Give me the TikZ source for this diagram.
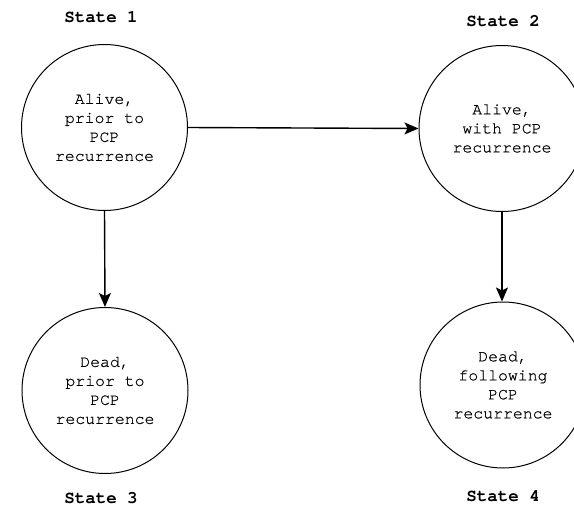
\documentclass[tikz,border=0pt]{standalone}
\usepackage{fontspec}
\setmonofont{TeX Gyre Cursor}
\newfontfamily\statebody[FakeBold=0.6]{TeX Gyre Cursor}
\usetikzlibrary{arrows.meta}
\begin{document}
\begin{tikzpicture}[x=1pt,y=-1pt,
  statecircle/.style={draw=black, line width=1pt, circle, minimum size=166pt, inner sep=0pt,
    align=center, font=\fontsize{16.5}{19}\selectfont\statebody},
  statelabel/.style={font=\fontsize{17.5}{20}\selectfont\ttfamily\bfseries},
  flow/.style={draw=black, line width=1.4pt, -{Stealth[length=14pt,width=12pt,inset=3pt]}}]
  \useasboundingbox (0,0) rectangle (574,509);
  \clip (0,0) rectangle (574,509);
  % the four states
  \node[statecircle] (s1) at (104.5,127.5) {Alive,\\prior to\\PCP\\recurrence};
  \node[statecircle] (s2) at (502,128.5) {Alive,\\with PCP\\recurrence};
  \node[statecircle] (s3) at (105,390.5) {Dead,\\prior to\\PCP\\recurrence};
  \node[statecircle] (s4) at (503,385) {Dead,\\following\\PCP\\recurrence};
  % state titles
  \node[statelabel] (t1) at (101,17) {State 1};
  \node[statelabel] (t2) at (503,21) {State 2};
  \node[statelabel] (t3) at (101,498) {State 3};
  \node[statelabel] (t4) at (503,496) {State 4};
  % transitions
  \draw[flow] (s1.east) -- (s2.west);
  \draw[flow] (s1.south) -- (s3.north);
  \draw[flow] (s2.south) -- (s2.south |- s4.north);
\end{tikzpicture}
\end{document}
